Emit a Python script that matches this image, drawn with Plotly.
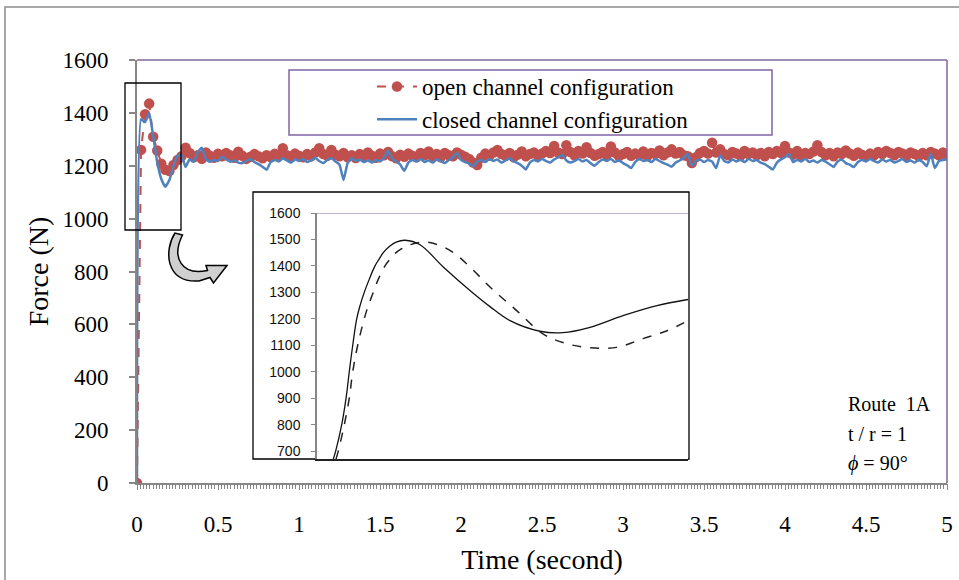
import plotly.graph_objects as go

# ---------------- data ----------------
time_s = [round(i * 0.025, 3) for i in range(201)]

open_force = [
    0, 1260, 1395, 1435, 1310, 1258, 1208, 1185, 1180, 1203,
    1222, 1236, 1268, 1248, 1232, 1240, 1226, 1250, 1238, 1230,
    1245, 1236, 1248, 1240, 1230, 1253, 1238, 1226, 1234, 1244,
    1236, 1228, 1240, 1233, 1245, 1238, 1266, 1240, 1235, 1246,
    1238, 1232, 1244, 1236, 1250, 1266, 1244, 1238, 1260, 1242,
    1236, 1248, 1232, 1240, 1229, 1244, 1236, 1250, 1238, 1230,
    1246, 1240, 1252, 1236, 1228, 1242, 1234, 1246, 1238, 1232,
    1248, 1240, 1254, 1236, 1244, 1232, 1248, 1240, 1236, 1250,
    1242, 1234, 1226, 1212, 1203, 1230, 1246, 1238, 1250, 1260,
    1244, 1238, 1248, 1232, 1242, 1254, 1236, 1244, 1250, 1238,
    1246, 1256, 1248, 1275, 1250, 1244, 1278, 1252, 1240, 1256,
    1246, 1270, 1248, 1238, 1244, 1252, 1240, 1273, 1250, 1236,
    1244, 1252, 1238, 1246, 1240, 1254, 1236, 1248, 1244, 1258,
    1240, 1250, 1262, 1246, 1252, 1240, 1236, 1210, 1232, 1248,
    1256, 1246, 1287, 1250, 1262, 1244, 1240, 1252, 1246, 1238,
    1256, 1244, 1250, 1240, 1248, 1236, 1252, 1244, 1256, 1248,
    1275, 1250, 1242, 1256, 1238, 1248, 1244, 1254, 1278, 1252,
    1240, 1248, 1236, 1250, 1244, 1258, 1246, 1238, 1250, 1242,
    1236, 1246, 1240, 1252, 1244, 1256, 1248, 1240, 1252, 1246,
    1238, 1250, 1244, 1236, 1248, 1240, 1252, 1246, 1240, 1250,
    1240,
]

closed_force = [
    0, 1376, 1365, 1400, 1312, 1212, 1150, 1121, 1146, 1200,
    1238, 1240, 1195, 1225, 1215, 1252, 1268, 1225, 1215, 1222,
    1218, 1234, 1224, 1215, 1220, 1212, 1210, 1218, 1226, 1214,
    1206, 1196, 1185, 1214, 1222, 1216, 1228, 1220, 1212, 1224,
    1218, 1226, 1214, 1220, 1230, 1218, 1210, 1222, 1228, 1216,
    1204, 1146, 1210, 1228, 1218, 1224, 1214, 1220, 1212, 1222,
    1216, 1230, 1257, 1226, 1216, 1204, 1181, 1212, 1222, 1216,
    1226, 1214, 1220, 1212, 1224, 1218, 1210, 1222, 1232, 1249,
    1222, 1214, 1208, 1198, 1216, 1222, 1214, 1226, 1218, 1224,
    1212, 1220, 1228, 1216, 1210, 1200, 1186, 1212, 1222, 1216,
    1226, 1218, 1212, 1224, 1232, 1241, 1220, 1212, 1218, 1226,
    1216, 1222, 1210, 1200, 1214, 1224, 1218, 1226, 1214, 1220,
    1210, 1202, 1191, 1214, 1226, 1218, 1222, 1214, 1226, 1218,
    1210, 1204, 1196, 1212, 1220, 1230, 1245, 1200, 1218, 1224,
    1214, 1222, 1216, 1191, 1240, 1218, 1212, 1224, 1216, 1222,
    1214, 1226, 1218, 1222, 1212, 1206, 1196, 1186, 1212, 1224,
    1232, 1245, 1214, 1222, 1216, 1226, 1214, 1220, 1212, 1222,
    1216, 1206, 1195, 1216, 1224, 1210, 1204, 1195, 1214, 1222,
    1216, 1226, 1218, 1212, 1224, 1216, 1222, 1212, 1218, 1226,
    1214, 1220, 1212, 1222, 1214, 1198, 1245, 1191, 1218, 1222,
    1225,
]

# inset (zoom of the first peak), time in seconds
inset_closed_t = [0.0132, 0.0151, 0.0200, 0.0235, 0.0261, 0.0289, 0.0321, 0.0348,
                  0.0382, 0.0423, 0.0469, 0.0501, 0.0536, 0.0590, 0.0640, 0.0712,
                  0.0833, 0.1021, 0.1237, 0.1399, 0.1561, 0.1803, 0.1989, 0.2208,
                  0.2474, 0.2749, 0.3000]
inset_closed_f = [670, 700, 800, 900, 1000, 1100, 1200, 1250,
                  1300, 1350, 1400, 1425, 1450, 1475, 1490, 1497,
                  1480, 1396, 1307, 1246, 1193, 1153, 1148, 1168,
                  1212, 1250, 1273]
inset_open_t = [0.0154, 0.0172, 0.0221, 0.0261, 0.0289, 0.0329, 0.0382, 0.0415,
                0.0455, 0.0496, 0.0550, 0.0590, 0.0639, 0.0685, 0.0752, 0.0887,
                0.1075, 0.1237, 0.1399, 0.1615, 0.1827, 0.2019, 0.2208, 0.2424,
                0.2636, 0.2830, 0.3000]
inset_open_f = [670, 700, 800, 900, 1000, 1100, 1200, 1250,
                1300, 1350, 1400, 1425, 1450, 1465, 1480, 1490,
                1459, 1396, 1320, 1231, 1143, 1106, 1091, 1092,
                1125, 1155, 1193]

y_ticks = [0, 200, 400, 600, 800, 1000, 1200, 1400, 1600]
fine_ticks = [round(i * 0.02, 2) for i in range(251)]
inset_ticks = [700, 800, 900, 1000, 1100, 1200, 1300, 1400, 1500, 1600]

# ---------------- layout helpers ----------------
W, H = 959, 580
L, R, T, B = 137, 12, 60, 97
PW, PH = W - L - R, H - T - B


def xp(px):
    return (px - L) / PW


def yp(py):
    return (H - B - py) / PH


SERIF = "Liberation Serif, Times New Roman, serif"
RED = "#C0504D"
BLUE = "#4F81BD"
PURPLE = "#8064A2"
GRAY = "#868686"

fig = go.Figure()

fig.add_trace(go.Scatter(
    x=time_s, y=open_force, mode="lines+markers",
    name="open channel configuration",
    line=dict(color=RED, width=2, dash="dash"),
    marker=dict(color=RED, size=10.5),
))
fig.add_trace(go.Scatter(
    x=time_s, y=closed_force, mode="lines",
    name="closed channel configuration",
    line=dict(color=BLUE, width=2.5, shape="spline", smoothing=0.4),
))

fig.add_trace(go.Scatter(
    x=inset_closed_t, y=inset_closed_f, mode="lines", showlegend=False,
    line=dict(color="#111111", width=1.3, shape="spline", smoothing=1.0),
    xaxis="x2", yaxis="y2",
))
fig.add_trace(go.Scatter(
    x=inset_open_t, y=inset_open_f, mode="lines", showlegend=False,
    line=dict(color="#222222", width=1.5, dash="dash", shape="spline", smoothing=1.0),
    xaxis="x2", yaxis="y2",
))
# empty trace carrying the fine tick axis
fig.add_trace(go.Scatter(x=[], y=[], xaxis="x3", yaxis="y", showlegend=False,
                         hoverinfo="skip"))

shapes = []
# outer chart frame (top & left visible)
shapes.append(dict(type="rect", xref="paper", yref="paper",
                   x0=xp(5), x1=xp(975), y0=yp(7), y1=yp(600),
                   line=dict(color="#8c8c8c", width=1.5), layer="below"))
# plot area top & right border (purple)
shapes.append(dict(type="line", xref="paper", yref="paper", x0=0, x1=1, y0=1, y1=1,
                   line=dict(color=PURPLE, width=1.5)))
shapes.append(dict(type="line", xref="paper", yref="paper", x0=1, x1=1, y0=0, y1=1,
                   line=dict(color=PURPLE, width=1.5)))
# legend box
shapes.append(dict(type="rect", xref="paper", yref="paper",
                   x0=xp(289), x1=xp(772), y0=yp(135), y1=yp(70),
                   line=dict(color=PURPLE, width=1.5), fillcolor="white", layer="below"))
# zoom box
shapes.append(dict(type="rect", xref="paper", yref="paper",
                   x0=xp(125), x1=xp(181), y0=yp(230), y1=yp(83),
                   line=dict(color="black", width=1.3)))
# inset box
shapes.append(dict(type="rect", xref="paper", yref="paper",
                   x0=xp(253), x1=xp(689), y0=yp(459), y1=yp(192),
                   line=dict(color="black", width=1.3), fillcolor="white", layer="below"))
# inset top line (purple, at 1600)
shapes.append(dict(type="line", xref="x2 domain", yref="y2", x0=0, x1=1, y0=1600, y1=1600,
                   line=dict(color=PURPLE, width=1.2)))

# curved arrow
arrow_pts = [
    ("M", [(175, 233)]),
    ("C", [(164, 250), (165, 283), (199, 281)]),
    ("L", [(210, 277.5)]),
    ("L", [(213.5, 283)]),
    ("L", [(227, 265.5)]),
    ("L", [(206, 265.5)]),
    ("L", [(207.5, 270.5)]),
    ("C", [(182, 276), (171, 258), (182.5, 235)]),
]
path = ""
for cmd, pts in arrow_pts:
    path += cmd + " " + " ".join(f"{xp(a):.5f},{yp(b):.5f}" for a, b in pts) + " "
path += "Z"
shapes.append(dict(type="path", xref="paper", yref="paper", path=path,
                   fillcolor="#d0d0d0", line=dict(color="black", width=1.5)))

annotations = []
for txt, py in [("Route  1A", 404), ("t / r = 1", 434), ("<i>ϕ</i> = 90°", 463)]:
    annotations.append(dict(text=txt, xref="paper", yref="paper", x=xp(846), y=yp(py),
                            xanchor="left", yanchor="middle", showarrow=False,
                            font=dict(family=SERIF, size=20, color="black")))

fig.update_layout(
    width=W, height=H,
    margin=dict(l=L, r=R, t=T, b=B, autoexpand=False),
    paper_bgcolor="white", plot_bgcolor="white",
    font=dict(family=SERIF, color="black"),
    showlegend=True,
    legend=dict(x=xp(372), y=yp(65), xanchor="left", yanchor="top",
                bgcolor="rgba(0,0,0,0)", borderwidth=0,
                font=dict(family=SERIF, size=23, color="black"),
                tracegroupgap=0, itemwidth=40),
    xaxis=dict(range=[0, 5], tickmode="linear", tick0=0, dtick=0.5,
               showline=True, linecolor=GRAY, linewidth=2,
               ticks="outside", ticklen=5, tickcolor=GRAY, tickwidth=1,
               showgrid=False, zeroline=False, automargin=False,
               tickfont=dict(family=SERIF, size=23),
               ticklabelstandoff=14,
               title=dict(text="Time (second)", font=dict(family=SERIF, size=28), standoff=14)),
    xaxis3=dict(range=[0, 5], overlaying="x", anchor="y", side="bottom",
                tickmode="array", tickvals=fine_ticks,
                ticks="outside", ticklen=5, tickcolor=GRAY, tickwidth=1,
                showticklabels=False, showline=False, showgrid=False, zeroline=False,
                automargin=False),
    yaxis=dict(range=[0, 1600], tickvals=y_ticks,
               showline=True, linecolor=GRAY, linewidth=2,
               ticks="outside", ticklen=6, tickcolor=GRAY, tickwidth=1.5,
               showgrid=False, zeroline=False, automargin=False,
               tickfont=dict(family=SERIF, size=23),
               ticklabelstandoff=16,
               title=dict(text="Force (N)", font=dict(family=SERIF, size=28), standoff=6)),
    xaxis2=dict(domain=[xp(317), xp(688)], anchor="y2", range=[0, 0.3],
                showline=True, linecolor="#222222", linewidth=1.5,
                showticklabels=False, ticks="", showgrid=False, zeroline=False,
                automargin=False),
    yaxis2=dict(domain=[yp(459), yp(213)], anchor="x2", range=[670, 1600],
                tickvals=inset_ticks, showline=True, linecolor=GRAY, linewidth=1.5,
                ticks="outside", ticklen=4, tickcolor=GRAY,
                showgrid=False, zeroline=False, automargin=False,
                tickfont=dict(family="Liberation Sans, Arial, sans-serif", size=14, color="#111111"),
                ticklabelstandoff=8),
    shapes=shapes,
    annotations=annotations,
)

fig.write_html("out.html")
